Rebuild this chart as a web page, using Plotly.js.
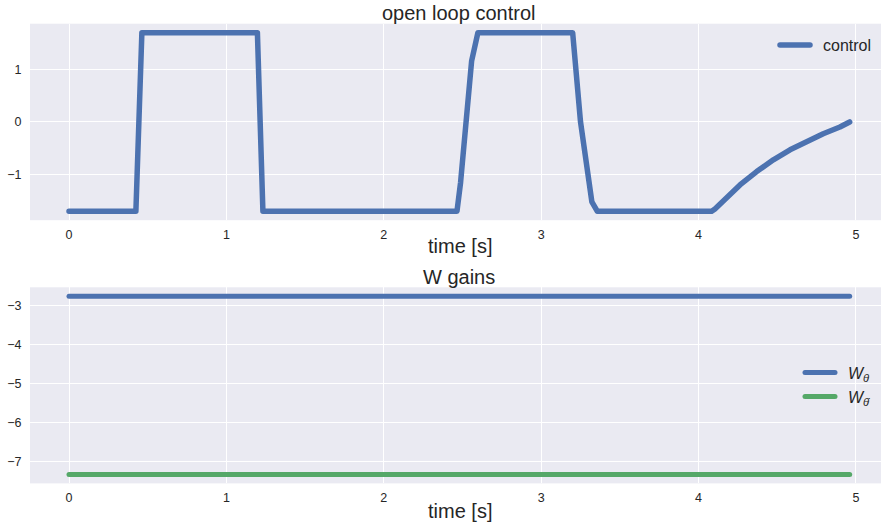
<!DOCTYPE html>
<html>
<head>
<meta charset="utf-8">
<script src="https://cdn.plot.ly/plotly-3.0.1.min.js"></script>
<style>
  html, body { margin: 0; padding: 0; background: #fff; }
  #chart { width: 881px; height: 525px; }
  path.js-line { stroke-linecap: round; stroke-linejoin: round; }
  .legendlines path { stroke-linecap: round; }
</style>
</head>
<body>
<div id="chart"></div>
<script>
// ---- data ----
const timeControl = [0, 0.425, 0.463, 1.197, 1.232, 2.465, 2.488, 2.558, 2.598,
  3.200, 3.250, 3.290, 3.322, 3.357, 4.083, 4.104, 4.180, 4.263, 4.369, 4.475, 4.581,
  4.687, 4.792, 4.898, 4.960];
const control = [-1.7, -1.7, 1.7, 1.7, -1.7, -1.7, -1.15, 1.16, 1.7,
  1.7, 0.0, -0.85, -1.52, -1.7, -1.7, -1.655, -1.43, -1.199, -0.945, -0.721, -0.530,
  -0.371, -0.224, -0.096, 0.0];

const timeGains = [0, 4.96];
const wTheta = [-2.76, -2.76];
const wThetaDot = [-7.33, -7.33];

const xTicks = [0, 1, 2, 3, 4, 5];
const yTicksTop = [-1, 0, 1];
const yTicksBottom = [-7, -6, -5, -4, -3];

const labels = {
  title1: 'open loop control',
  title2: 'W gains',
  xTitle: 'time [s]',
  control: '\u2002control',
  wTheta: '\u2002<i>W</i><sub><i>θ</i></sub>',
  wThetaDot: '\u2002<i>W</i><sub><i>θ̇</i></sub>'
};

// ---- styling ----
const BLUE = '#4C72B0', GREEN = '#55A868', BG = '#EAEAF2', TXT = '#262626';
const W = 881, H = 525;
const FONT = 'Liberation Sans, Arial, sans-serif';
const py = p => 1 - p / H;
const px = p => p / W;

const traces = [
  { x: timeControl, y: control, name: labels.control, mode: 'lines',
    line: { color: BLUE, width: 5.5 }, xaxis: 'x', yaxis: 'y', legend: 'legend' },
  { x: timeGains, y: wTheta, name: labels.wTheta, mode: 'lines',
    line: { color: BLUE, width: 5 }, xaxis: 'x2', yaxis: 'y2', legend: 'legend2' },
  { x: timeGains, y: wThetaDot, name: labels.wThetaDot, mode: 'lines',
    line: { color: GREEN, width: 5 }, xaxis: 'x2', yaxis: 'y2', legend: 'legend2' }
];

const xCommon = {
  range: [-0.2478, 5.159], tickvals: xTicks, ticktext: xTicks.map(String),
  showgrid: true, gridcolor: '#ffffff', gridwidth: 1, zeroline: false,
  showline: false, ticks: 'outside', ticklen: 3, tickcolor: 'rgba(0,0,0,0)',
  tickfont: { family: FONT, size: 12.5, color: TXT }, fixedrange: true
};
const yCommon = {
  showgrid: true, gridcolor: '#ffffff', gridwidth: 1, zeroline: false,
  showline: false, ticks: 'outside', ticklen: 5, tickcolor: 'rgba(0,0,0,0)',
  tickfont: { family: FONT, size: 12.5, color: TXT }, fixedrange: true
};

const layout = {
  width: W, height: H,
  margin: { l: 0, r: 0, t: 0, b: 0, pad: 0 },
  paper_bgcolor: '#ffffff', plot_bgcolor: BG,
  font: { family: FONT, color: TXT },
  xaxis: Object.assign({}, xCommon, { domain: [px(30), 1], anchor: 'y' }),
  yaxis: Object.assign({}, yCommon, { domain: [py(220.2), py(23.7)], range: [-1.87, 1.87],
    tickvals: yTicksTop, anchor: 'x' }),
  xaxis2: Object.assign({}, xCommon, { domain: [px(30), 1], anchor: 'y2' }),
  yaxis2: Object.assign({}, yCommon, { domain: [py(483.4), py(287.3)], range: [-7.556, -2.528],
    tickvals: yTicksBottom, anchor: 'x2' }),
  showlegend: true,
  legend: { x: px(775), y: py(45), xanchor: 'left', yanchor: 'middle',
    bgcolor: 'rgba(0,0,0,0)', borderwidth: 0,
    font: { family: FONT, size: 16, color: TXT } },
  legend2: { x: px(800), y: py(384.7), xanchor: 'left', yanchor: 'middle',
    bgcolor: 'rgba(0,0,0,0)', borderwidth: 0,
    font: { family: FONT, size: 16, color: TXT } },
  annotations: [
    { text: labels.title1, x: px(459), y: py(13), xref: 'paper', yref: 'paper',
      xanchor: 'center', yanchor: 'middle', showarrow: false,
      font: { family: FONT, size: 20, color: TXT } },
    { text: labels.xTitle, x: px(459.5), y: py(246), xref: 'paper', yref: 'paper',
      xanchor: 'center', yanchor: 'middle', showarrow: false,
      font: { family: FONT, size: 20, color: TXT } },
    { text: labels.title2, x: px(459), y: py(277), xref: 'paper', yref: 'paper',
      xanchor: 'center', yanchor: 'middle', showarrow: false,
      font: { family: FONT, size: 20, color: TXT } },
    { text: labels.xTitle, x: px(459.5), y: py(511), xref: 'paper', yref: 'paper',
      xanchor: 'center', yanchor: 'middle', showarrow: false,
      font: { family: FONT, size: 20, color: TXT } }
  ]
};

Plotly.newPlot('chart', traces, layout, { staticPlot: true, displayModeBar: false });
</script>
</body>
</html>
